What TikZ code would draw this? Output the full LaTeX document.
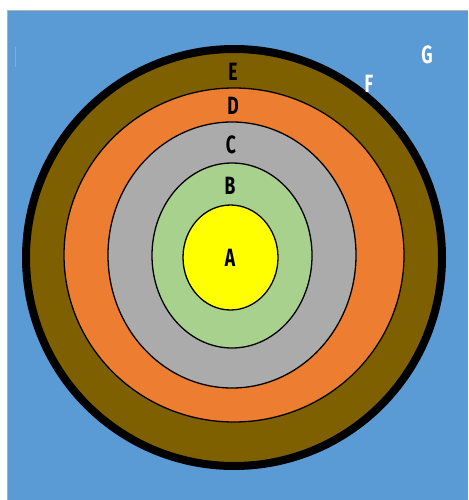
\documentclass[tikz,border=0pt]{standalone}
\usepackage{fontspec}
\setmainfont{Fira Sans}
\definecolor{bgblue}{HTML}{5B9BD5}
\definecolor{crust}{HTML}{7F6000}
\definecolor{mantle}{HTML}{ED7D31}
\definecolor{outercore}{HTML}{ABABAB}
\definecolor{innercore}{HTML}{A9D18E}
\definecolor{centre}{HTML}{FFFF00}
\begin{document}
\begin{tikzpicture}[x=1pt,y=-1pt,
  ring/.style={draw=black,line width=1.3pt},
  lbl/.style={font=\fontsize{25}{25}\selectfont\bfseries,text=black,inner sep=0pt,xscale=0.7,transform shape},
  wlbl/.style={lbl,text=white}]
\useasboundingbox (0,0) rectangle (468,500);
\fill[white] (0,0) rectangle (468,500);
\fill[bgblue] (7,10) rectangle (468,500);
\draw[gray!60,line width=0.6pt] (7,500) -- (7,10) -- (468,10);
\draw[gray!70,line width=0.8pt] (15,47) -- (15,67);
\filldraw[fill=crust,draw=black,line width=8pt] (234,257.5) ellipse [x radius=208, y radius=208.5];
\filldraw[fill=mantle,ring] (234,255) ellipse [x radius=170, y radius=167];
\filldraw[fill=outercore,ring] (232,255) ellipse [x radius=124, y radius=133];
\filldraw[fill=innercore,ring] (232,255.5) ellipse [x radius=80, y radius=92.5];
\filldraw[fill=centre,ring] (230.5,257.5) ellipse [x radius=47.5, y radius=52.5];
\node[lbl] (e) at (233,72) {E};
\node[lbl] (d) at (233,106) {D};
\node[lbl] (c) at (231,145) {C};
\node[lbl] (b) at (230,186) {B};
\node[lbl] (a) at (230,258) {A};
\node[wlbl] (f) at (369,84) {F};
\node[wlbl] (g) at (427,55) {G};
\end{tikzpicture}
\end{document}
